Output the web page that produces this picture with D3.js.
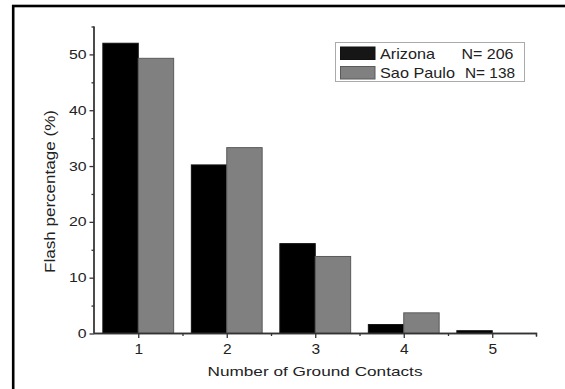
<!DOCTYPE html>
<html>
<head>
<meta charset="utf-8">
<script src="https://cdn.jsdelivr.net/npm/d3@7"></script>
<style>
  html, body { margin: 0; padding: 0; background: #fff; }
  svg { display: block; }
  text { font-family: "Liberation Sans", Arial, sans-serif; fill: #222; }
</style>
</head>
<body>
<svg id="chart" width="565" height="389"></svg>
<script>
// Share of flashes by number of ground contacts
const contacts = [1, 2, 3, 4, 5];
const arizona = [52.0, 30.2, 16.1, 1.6, 0.5];
const saoPaulo = [49.3, 33.3, 13.8, 3.7, 0.0];
const seriesNames = ["Arizona", "Sao Paulo"];
const seriesCounts = ["N= 206", "N= 138"];
const yTicks = [0, 10, 20, 30, 40, 50];
const yMinorTicks = [5, 15, 25, 35, 45, 55];
const xMinorTicks = [1.5, 2.5, 3.5, 4.5];

const svg = d3.select("#chart");
const font = "'Liberation Sans', Arial, sans-serif";

// outer frame (only top and left edges fall inside the view)
svg.append("rect")
  .attr("x", 13.2).attr("y", 6)
  .attr("width", 700).attr("height", 500)
  .attr("fill", "none").attr("stroke", "#000").attr("stroke-width", 2.6);

const x = d3.scaleLinear().domain([0.5, 5.5]).range([94, 536.5]);
const y = d3.scaleLinear().domain([0, 55]).range([333.5, 26.5]);
const barW = x(1.4) - x(1);

const colors = ["#000000", "#808080"];
const strokes = ["#111111", "#5a5a5a"];
const series = [arizona, saoPaulo];

series.forEach((vals, si) => {
  svg.append("g").selectAll("rect")
    .data(contacts.map((c, i) => ({ c, v: vals[i] })).filter(d => d.v > 0))
    .join("rect")
    .attr("x", d => si === 0 ? x(d.c) - barW : x(d.c))
    .attr("y", d => y(d.v))
    .attr("width", barW)
    .attr("height", d => y(0) - y(d.v))
    .attr("fill", colors[si])
    .attr("stroke", strokes[si])
    .attr("stroke-width", 1);
});

// y axis
const yAxis = svg.append("g").attr("transform", `translate(${x(0.5)},0)`);
yAxis.call(d3.axisLeft(y).tickValues(yTicks).tickSize(4.5).tickPadding(3).tickFormat(d3.format("d")));
yAxis.append("g").call(d3.axisLeft(y).tickValues(yMinorTicks).tickSize(2.5).tickFormat(""));
yAxis.selectAll(".domain").attr("d", `M0,${y(0)}V${y(55)}`);
yAxis.selectAll("path, line").attr("stroke", "#333").attr("stroke-width", 1.3);
yAxis.selectAll(".tick text")
  .attr("font-size", 12.5).attr("fill", "#333").style("font-family", font)
  .attr("textLength", d => String(d).length * 8.8)
  .attr("lengthAdjust", "spacingAndGlyphs");

// x axis
const xAxis = svg.append("g").attr("transform", `translate(0,${y(0)})`);
xAxis.call(d3.axisBottom(x).tickValues(contacts).tickSize(4.5).tickPadding(5).tickFormat(d3.format("d")));
xAxis.append("g").call(d3.axisBottom(x).tickValues(xMinorTicks).tickSize(2.5).tickFormat(""));
xAxis.selectAll(".domain").attr("d", `M${x(0.5)},0H${x(5.5)}V3`);
xAxis.selectAll("path, line").attr("stroke", "#333").attr("stroke-width", 1.3).attr("fill", "none");
xAxis.selectAll(".tick text")
  .attr("font-size", 15.5).attr("fill", "#333").style("font-family", font);

// axis titles
svg.append("text")
  .attr("x", 315).attr("y", 376)
  .attr("text-anchor", "middle").attr("font-size", 13.5)
  .attr("textLength", 215).attr("lengthAdjust", "spacingAndGlyphs")
  .text("Number of Ground Contacts");

svg.append("text")
  .attr("transform", "translate(54.5,191.5) rotate(-90)")
  .attr("text-anchor", "middle").attr("font-size", 14)
  .attr("textLength", 163).attr("lengthAdjust", "spacingAndGlyphs")
  .text("Flash percentage (%)");

// legend
const nameW = [55, 75];
const countX = [461.5, 465];
const countW = [52, 50];
const lg = svg.append("g");
lg.append("rect")
  .attr("x", 335.5).attr("y", 42.5).attr("width", 189).attr("height", 39)
  .attr("fill", "#fff").attr("stroke", "#aaa").attr("stroke-width", 1);
seriesNames.forEach((name, i) => {
  const yy = 47 + i * 19.5;
  lg.append("rect")
    .attr("x", 340.5).attr("y", yy).attr("width", 34.5).attr("height", 12.5)
    .attr("fill", i === 0 ? "#161616" : "#808080")
    .attr("stroke", i === 0 ? "#111" : "#5a5a5a").attr("stroke-width", 1);
  lg.append("text")
    .attr("x", 380).attr("y", yy + 11.5)
    .attr("font-size", 14.5)
    .attr("textLength", nameW[i]).attr("lengthAdjust", "spacingAndGlyphs")
    .text(name);
  lg.append("text")
    .attr("x", countX[i]).attr("y", yy + 11.5)
    .attr("font-size", 14.5)
    .attr("textLength", countW[i]).attr("lengthAdjust", "spacingAndGlyphs")
    .text(seriesCounts[i]);
});
</script>
</body>
</html>
